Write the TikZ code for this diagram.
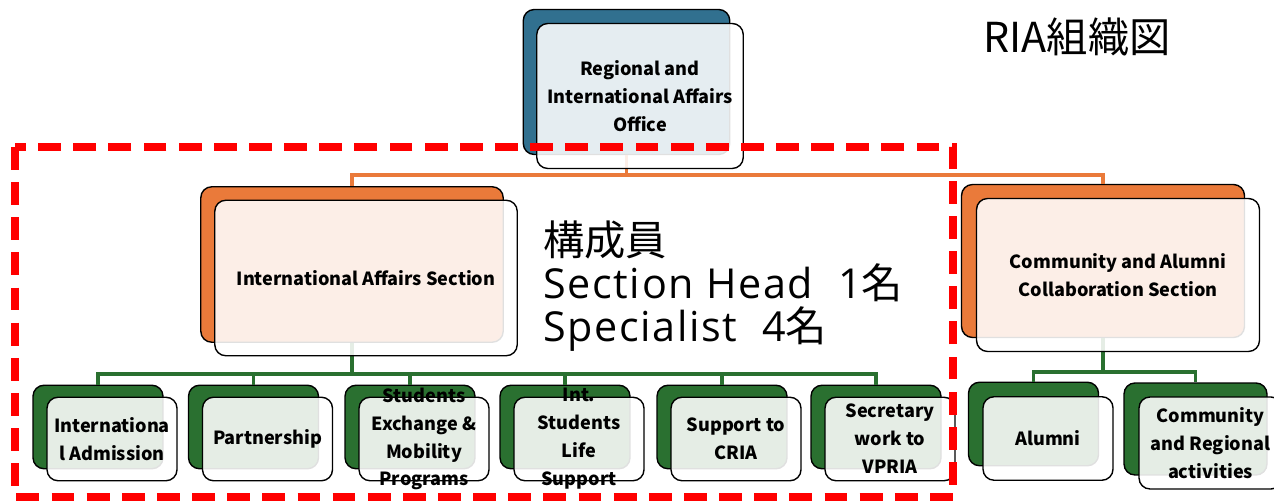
\documentclass[tikz,border=0pt]{standalone}
\usepackage{fontspec}
\setmainfont{Noto Sans CJK JP}
\newfontfamily\latinbig[LetterSpace=4]{Open Sans}
\usetikzlibrary{positioning}
\definecolor{officeblue}{RGB}{49,112,143}
\definecolor{sectionorange}{RGB}{234,122,58}
\definecolor{groupgreen}{RGB}{42,112,48}
\definecolor{framered}{RGB}{255,0,0}
\tikzset{
  backbox/.style = {draw, line width = 0.8pt, rounded corners = 0.22cm, inner sep = 0},
  frontbox/.style = {draw, line width = 0.8pt, rounded corners = 0.22cm, inner sep = 0, fill = white, fill opacity = 0.88},
  officesize/.style = {minimum width = 4.13cm, minimum height = 2.9cm},
  intlsize/.style = {minimum width = 6.05cm, minimum height = 3.11cm},
  commsize/.style = {minimum width = 5.66cm, minimum height = 3.06cm},
  groupsize/.style = {minimum width = 2.6cm, minimum height = 1.67cm},
  widegroupsize/.style = {minimum width = 2.86cm, minimum height = 1.84cm},
  boxtext/.style = {font = \bfseries\fontsize{10.3}{15.9}\selectfont, align = center, inner sep = 0},
  bigtext/.style = {font = \fontsize{23.5}{24.6}\selectfont, align = left, inner sep = 0},
  orangeline/.style = {draw = sectionorange, line width = 2pt},
  greenline/.style = {draw = groupgreen, line width = 2pt},
  redframe/.style = {draw = framered, line width = 4.5pt, dash pattern = on 13pt off 7pt}
}

\begin{document}
\begin{tikzpicture}[x = 0.02cm, y = -0.02cm]
    \useasboundingbox (0,0) rectangle (1274,502);
    % back boxes
    \node[backbox, officesize, fill = officeblue] (officeback) at (626.5,82) {};
    \node[backbox, intlsize, fill = sectionorange] (intlback) at (352,264.5) {};
    \node[backbox, commsize, fill = sectionorange] (commback) at (1103,261) {};
    \node[backbox, groupsize, fill = groupgreen] (admback) at (98,427) {};
    \node[backbox, groupsize, fill = groupgreen] (partnerback) at (253.5,427) {};
    \node[backbox, groupsize, fill = groupgreen] (exchback) at (410,427) {};
    \node[backbox, groupsize, fill = groupgreen] (lifeback) at (565,427) {};
    \node[backbox, groupsize, fill = groupgreen] (criaback) at (722,427) {};
    \node[backbox, groupsize, fill = groupgreen] (vpriaback) at (876,427) {};
    \node[backbox, groupsize, fill = groupgreen] (alumniback) at (1033.5,424) {};
    \node[backbox, widegroupsize, fill = groupgreen] (regionback) at (1195.5,429) {};
    % connectors
    \coordinate (orangebus) at (0,175);
    \coordinate (intlbus) at (0,374);
    \coordinate (commbus) at (0,372);
    \draw[orangeline] (officeback.south) -- (officeback.south |- orangebus) -| (intlback.north);
    \draw[orangeline] (officeback.south |- orangebus) -| (commback.north);
    \draw[greenline] (intlback.south) -- (intlback.south |- intlbus);
    \foreach \g in {admback, partnerback, exchback, lifeback, criaback, vpriaback}
        \draw[greenline] (intlback.south |- intlbus) -| (\g.north);
    \draw[greenline] (commback.south) -- (commback.south |- commbus);
    \foreach \g in {alumniback, regionback}
        \draw[greenline] (commback.south |- commbus) -| (\g.north);
    % front boxes
    \node[frontbox, officesize] (office) at (640,96) {};
    \node[frontbox, intlsize] (intl) at (366,278) {};
    \node[frontbox, commsize] (comm) at (1118,275) {};
    \node[frontbox, groupsize] (adm) at (112,439) {};
    \node[frontbox, groupsize] (partner) at (267.5,439) {};
    \node[frontbox, groupsize] (exch) at (424,439) {};
    \node[frontbox, groupsize] (life) at (579,439) {};
    \node[frontbox, groupsize] (cria) at (736,439) {};
    \node[frontbox, groupsize] (vpria) at (890,439) {};
    \node[frontbox, groupsize] (alumni) at (1048,438.5) {};
    \node[frontbox, widegroupsize] (region) at (1210.5,443) {};
    % box texts
    \node[boxtext] (officetext) at (office) {Regional and\\International Affairs\\Office};
    \node[boxtext] (intltext) at (intl) {International Affairs Section};
    \node[boxtext] (commtext) at (comm) {Community and Alumni\\Collaboration Section};
    \node[boxtext] (admtext) at (adm) {Internationa\\l Admission};
    \node[boxtext] (partnertext) at (partner) {Partnership};
    \node[boxtext] (exchtext) at (exch) {Students\\Exchange \&\\Mobility\\Programs};
    \node[boxtext] (lifetext) at (life) {Int.\\Students\\Life\\Support};
    \node[boxtext] (criatext) at (cria) {Support to\\CRIA};
    \node[boxtext] (vpriatext) at (vpria) {Secretary\\work to\\VPRIA};
    \node[boxtext] (alumnitext) at (alumni) {Alumni};
    \node[boxtext] (regiontext) at (region) {Community\\and Regional\\activities};
    % members and title
    \node[bigtext, anchor = base west] (members) at (543,342) {構成員\\{\latinbig Section Head\ \ 1}名\\{\latinbig Specialist\ \ 4}名};
    \node[bigtext, anchor = base west] (title) at (983,53) {RIA組織図};
    % frame round the section
    \draw[redframe] (15,147) rectangle (953,497);
\end{tikzpicture}
\end{document}
